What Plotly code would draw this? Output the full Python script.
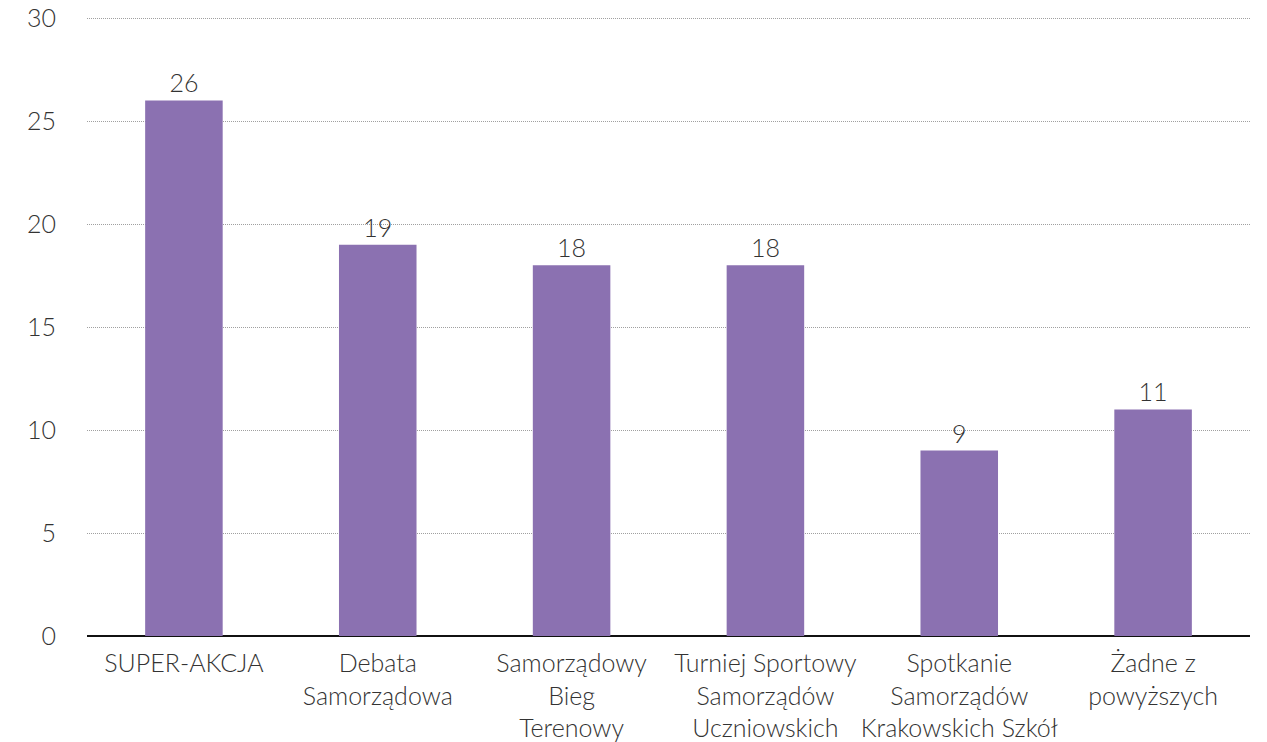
import plotly.graph_objects as go

categories = ["SUPER-AKCJA", "Debata<br>Samorządowa", "Samorządowy<br>Bieg<br>Terenowy",
              "Turniej Sportowy<br>Samorządów<br>Uczniowskich", "Spotkanie<br>Samorządów<br>Krakowskich Szkół",
              "Żadne z<br>powyższych"]
values = [26, 19, 18, 18, 9, 11]
y_ticks = [0, 5, 10, 15, 20, 25, 30]

FONT = "Lato Light, Lato"
FS = 25

fig = go.Figure(go.Bar(
    x=categories, y=values, width=0.4,
    marker=dict(color="#8b71b1", line=dict(width=0)),
    text=[str(v) for v in values], textposition="outside",
    textfont=dict(family=FONT, size=FS, color="#333333", weight=300),
    cliponaxis=False,
))
fig.update_layout(
    width=1267, height=742,
    margin=dict(l=87, r=17, t=16, b=106),
    paper_bgcolor="white", plot_bgcolor="white",
    font=dict(family=FONT, size=FS, color="#333333", weight=300),
    showlegend=False,
    xaxis=dict(showgrid=False, showline=False, ticks="", automargin=False,
               ticklabelstandoff=10,
               tickfont=dict(family=FONT, size=FS, color="#333333", weight=300)),
    yaxis=dict(range=[0, 30.1], tickvals=y_ticks, showgrid=True, gridcolor="#a0a0a0",
               griddash="1px,1px", gridwidth=1, zeroline=True, zerolinecolor="#111111",
               zerolinewidth=2, ticklabelstandoff=30, automargin=False,
               tickfont=dict(family=FONT, size=FS, color="#333333", weight=300)),
)
fig.write_html("out.html", config={"displayModeBar": False},
               post_script="document.body.style.margin='0';document.body.style.overflow='hidden';")
